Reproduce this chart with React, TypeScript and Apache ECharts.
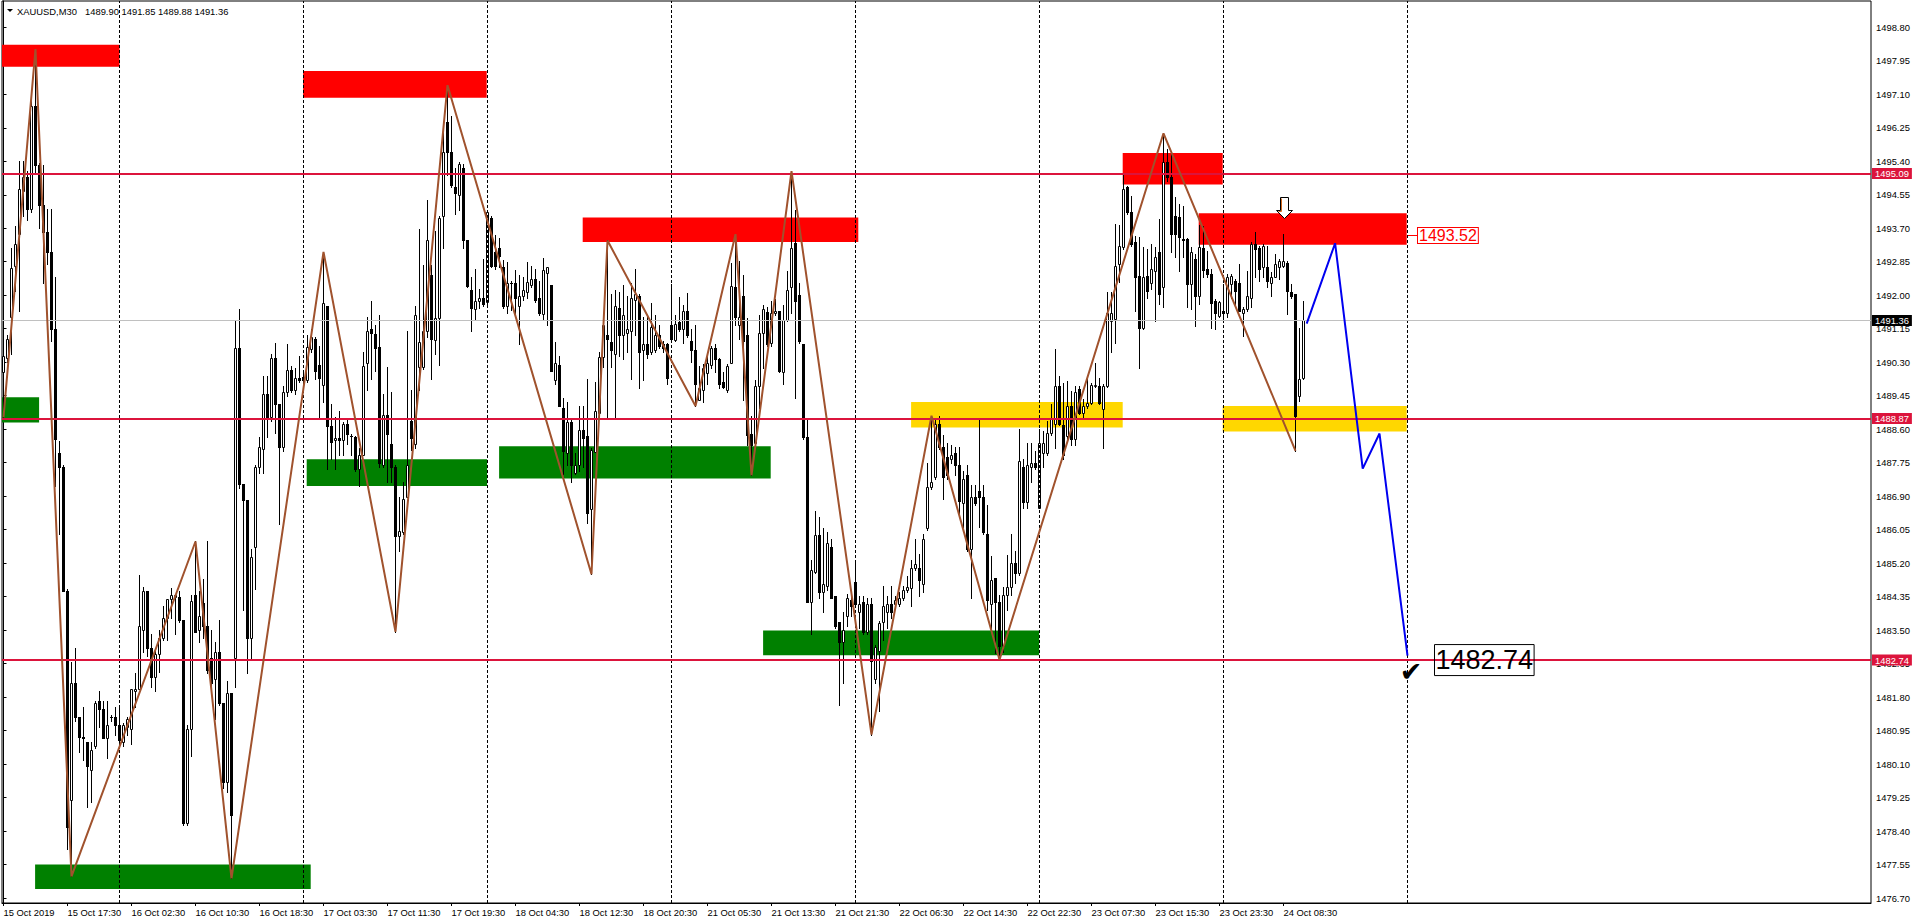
import React, { useEffect, useRef } from 'react';
import * as echarts from 'echarts';

// ---- Candles: [open, high, low, close], one array per trading day (M30) ----
const oct15 = [
  [1490.05, 1490.90, 1488.90, 1490.45], [1490.40, 1491.00, 1490.30, 1490.90], [1491.45, 1493.20, 1490.50, 1492.70],
  [1492.75, 1493.75, 1492.10, 1493.30], [1493.55, 1495.40, 1491.60, 1494.70], [1494.65, 1495.40, 1494.00, 1495.00],
  [1495.00, 1495.15, 1493.90, 1494.20], [1494.20, 1497.10, 1494.10, 1496.80], [1496.80, 1498.25, 1495.10, 1495.30],
  [1495.30, 1495.35, 1493.70, 1494.30], [1494.30, 1495.30, 1492.30, 1493.60], [1493.60, 1494.20, 1492.80, 1493.10],
  [1493.10, 1494.20, 1490.85, 1491.15], [1491.15, 1492.45, 1487.15, 1488.35], [1488.00, 1488.30, 1485.95, 1487.65],
  [1487.65, 1487.70, 1484.50, 1484.50], [1484.50, 1484.55, 1477.95, 1478.50], [1479.20, 1482.70, 1477.25, 1482.15],
  [1482.15, 1483.05, 1481.20, 1481.30], [1481.30, 1481.30, 1480.40, 1480.80], [1480.80, 1481.55, 1480.20, 1480.75],
  [1480.65, 1480.65, 1479.00, 1480.05], [1479.95, 1480.65, 1479.15, 1480.45], [1480.55, 1481.70, 1480.50, 1481.65],
  [1481.70, 1481.95, 1481.05, 1481.50], [1481.50, 1481.70, 1480.75, 1480.75], [1480.75, 1481.70, 1480.25, 1481.10],
  [1481.30, 1481.35, 1481.20, 1481.30], [1481.30, 1481.55, 1480.85, 1481.10],
];
const oct16 = [
  [1481.10, 1481.55, 1480.50, 1480.70], [1480.65, 1481.15, 1480.55, 1481.10], [1481.05, 1481.30, 1480.85, 1481.25],
  [1481.00, 1482.00, 1480.60, 1482.00], [1481.95, 1482.40, 1481.55, 1482.00], [1482.00, 1484.90, 1482.00, 1483.60],
  [1483.50, 1484.60, 1482.95, 1484.50], [1484.50, 1484.50, 1482.85, 1483.05], [1483.05, 1483.40, 1482.05, 1482.30],
  [1482.30, 1483.00, 1481.95, 1482.90], [1482.90, 1483.50, 1482.45, 1483.30], [1483.30, 1484.10, 1483.25, 1483.80],
  [1483.80, 1484.30, 1483.25, 1484.30], [1484.30, 1484.57, 1483.80, 1484.40], [1484.35, 1484.40, 1483.40, 1484.40],
  [1484.35, 1484.50, 1483.70, 1483.75], [1483.75, 1483.75, 1478.55, 1478.60], [1478.60, 1481.10, 1478.55, 1481.00],
  [1481.00, 1484.40, 1480.30, 1484.25], [1484.40, 1485.75, 1483.45, 1483.45], [1483.50, 1484.50, 1483.20, 1483.85],
  [1484.20, 1484.80, 1483.30, 1483.60], [1483.60, 1485.75, 1482.40, 1482.50], [1482.80, 1483.50, 1482.10, 1482.15],
  [1482.25, 1483.20, 1481.25, 1482.95], [1482.95, 1483.75, 1481.60, 1481.65], [1481.65, 1481.65, 1479.50, 1479.65],
  [1479.65, 1482.20, 1479.40, 1481.90], [1481.90, 1481.90, 1477.20, 1478.80], [1482.80, 1491.35, 1482.05, 1490.65],
  [1490.65, 1491.65, 1487.10, 1487.20], [1487.20, 1487.20, 1484.00, 1486.80], [1486.80, 1486.80, 1482.40, 1483.30],
  [1483.30, 1485.55, 1482.75, 1485.35], [1485.60, 1487.70, 1484.55, 1487.65], [1487.65, 1488.40, 1487.50, 1488.15],
  [1488.10, 1489.95, 1487.50, 1489.50], [1489.50, 1489.95, 1488.40, 1488.90], [1488.90, 1490.50, 1488.80, 1490.40],
  [1490.40, 1490.80, 1488.50, 1489.25], [1489.25, 1489.25, 1486.20, 1488.15], [1488.15, 1489.70, 1488.05, 1489.55],
  [1489.55, 1490.75, 1489.45, 1490.10], [1490.10, 1490.20, 1489.55, 1489.60], [1489.60, 1490.15, 1489.50, 1489.90],
  [1489.90, 1490.45, 1489.80, 1489.85],
];
const oct17 = [
  [1489.93, 1490.05, 1489.75, 1489.84], [1489.86, 1491.00, 1489.79, 1490.68], [1490.64, 1491.15, 1490.55, 1490.95],
  [1490.90, 1490.95, 1489.88, 1490.08], [1490.22, 1490.71, 1488.86, 1489.90], [1489.71, 1493.10, 1489.30, 1491.81],
  [1491.73, 1491.73, 1487.60, 1488.67], [1488.67, 1489.25, 1487.84, 1488.28], [1488.33, 1488.91, 1487.60, 1488.38],
  [1488.38, 1489.06, 1487.94, 1488.33], [1488.33, 1488.77, 1487.94, 1488.72], [1488.72, 1488.86, 1488.23, 1488.47],
  [1488.43, 1488.47, 1487.94, 1488.43], [1488.40, 1488.43, 1487.55, 1487.60], [1487.60, 1488.13, 1487.16, 1487.94],
  [1487.94, 1490.57, 1487.94, 1490.20], [1490.27, 1491.44, 1489.59, 1491.08], [1491.15, 1491.85, 1489.88, 1491.03],
  [1491.02, 1491.25, 1490.08, 1490.66], [1490.68, 1491.49, 1487.65, 1487.74], [1487.70, 1489.50, 1487.65, 1488.96],
  [1488.96, 1490.18, 1487.26, 1488.47], [1488.23, 1489.54, 1487.26, 1487.65], [1487.65, 1487.70, 1483.46, 1485.89],
  [1485.89, 1486.87, 1485.51, 1486.01], [1486.00, 1487.26, 1485.95, 1486.82], [1486.87, 1491.10, 1486.87, 1487.69],
  [1488.81, 1489.59, 1488.08, 1488.38], [1488.23, 1491.73, 1488.13, 1491.49], [1490.18, 1493.68, 1489.59, 1490.81],
  [1490.18, 1492.76, 1490.13, 1491.10], [1491.10, 1494.41, 1490.95, 1493.39], [1492.51, 1492.76, 1489.88, 1490.90],
  [1490.86, 1493.63, 1490.52, 1491.42], [1491.42, 1494.02, 1490.22, 1493.97], [1494.02, 1496.40, 1493.19, 1495.63],
  [1496.40, 1497.33, 1495.04, 1495.63], [1495.63, 1496.55, 1494.75, 1494.80], [1494.75, 1495.24, 1494.07, 1494.60],
  [1494.55, 1495.38, 1494.17, 1495.33], [1495.24, 1495.33, 1493.19, 1493.39], [1493.39, 1493.39, 1492.22, 1492.24],
  [1492.14, 1492.46, 1491.10, 1491.68], [1491.66, 1492.66, 1491.39, 1491.85], [1491.85, 1492.17, 1491.68, 1491.93],
  [1491.93, 1492.92, 1491.73, 1491.78],
];
const oct18 = [
  [1491.83, 1494.12, 1491.78, 1494.12], [1493.97, 1494.02, 1492.71, 1492.75], [1493.10, 1493.53, 1492.66, 1492.75],
  [1493.19, 1493.44, 1492.71, 1493.00], [1492.71, 1492.90, 1491.68, 1491.73], [1491.73, 1492.85, 1491.54, 1492.32],
  [1492.32, 1492.37, 1491.63, 1492.32], [1492.32, 1492.63, 1491.54, 1491.93], [1491.73, 1492.51, 1490.76, 1491.98],
  [1491.98, 1492.46, 1491.88, 1492.12], [1492.07, 1492.85, 1491.93, 1492.34], [1492.27, 1492.75, 1492.22, 1492.40],
  [1492.40, 1492.66, 1491.83, 1491.88], [1491.93, 1492.37, 1491.49, 1491.54], [1491.52, 1492.95, 1491.39, 1492.63],
  [1492.56, 1492.71, 1491.25, 1492.71], [1492.27, 1492.27, 1490.08, 1490.08], [1489.84, 1490.81, 1489.74, 1490.27],
  [1490.22, 1490.47, 1489.20, 1489.20], [1489.13, 1489.40, 1487.45, 1488.04], [1487.99, 1489.30, 1487.69, 1488.77],
  [1488.77, 1488.86, 1487.26, 1487.69], [1487.50, 1487.99, 1487.45, 1487.69], [1487.69, 1489.20, 1487.55, 1488.57],
  [1488.57, 1489.20, 1487.65, 1488.38], [1488.43, 1489.88, 1486.23, 1486.48], [1486.58, 1488.13, 1484.92, 1488.08],
  [1488.03, 1489.79, 1488.03, 1489.06], [1489.01, 1490.56, 1489.01, 1490.42], [1490.42, 1491.34, 1490.18, 1491.25],
  [1491.00, 1493.39, 1488.86, 1490.90], [1490.81, 1492.02, 1490.18, 1490.61], [1490.52, 1492.12, 1488.86, 1491.73],
  [1491.68, 1492.07, 1490.47, 1491.00], [1491.00, 1492.27, 1490.37, 1491.49], [1491.05, 1491.98, 1490.56, 1491.15],
  [1491.10, 1492.32, 1489.88, 1491.93], [1491.88, 1492.66, 1491.00, 1492.02], [1491.98, 1492.02, 1489.64, 1490.56],
  [1490.60, 1491.46, 1489.85, 1490.75], [1490.75, 1491.51, 1490.40, 1490.50], [1490.55, 1491.81, 1490.50, 1491.20],
  [1490.60, 1491.51, 1490.55, 1491.00], [1491.00, 1491.25, 1490.65, 1490.70], [1490.75, 1490.85, 1490.55, 1490.65],
  [1490.75, 1490.80, 1489.75, 1489.90],
];
const oct21 = [
  [1491.25, 1492.28, 1490.85, 1490.90], [1490.87, 1491.51, 1490.85, 1491.27], [1491.33, 1491.96, 1491.10, 1491.15],
  [1491.15, 1491.76, 1490.80, 1491.61], [1491.61, 1492.06, 1490.95, 1491.00], [1490.85, 1491.15, 1490.30, 1490.60],
  [1490.60, 1491.25, 1489.19, 1489.75], [1489.35, 1490.20, 1489.35, 1489.65], [1489.60, 1490.25, 1489.30, 1490.15],
  [1490.03, 1490.55, 1489.75, 1490.27], [1490.23, 1490.70, 1490.15, 1490.67], [1490.67, 1490.75, 1490.05, 1490.37],
  [1490.37, 1490.40, 1489.65, 1489.75], [1489.80, 1490.05, 1489.65, 1489.67], [1489.60, 1490.25, 1489.55, 1490.20],
  [1490.27, 1492.81, 1490.27, 1492.24], [1492.21, 1493.55, 1491.25, 1491.46], [1491.25, 1492.86, 1490.90, 1491.46],
  [1491.98, 1492.51, 1489.34, 1490.85], [1491.00, 1491.41, 1488.19, 1488.44], [1488.49, 1488.94, 1487.43, 1488.19],
  [1488.24, 1489.85, 1488.14, 1489.70], [1489.70, 1491.51, 1489.14, 1491.03], [1491.05, 1491.76, 1490.15, 1491.66],
  [1491.58, 1491.71, 1490.70, 1490.75], [1490.80, 1491.86, 1490.70, 1491.56], [1491.54, 1491.91, 1491.50, 1491.61],
  [1491.61, 1491.61, 1490.05, 1490.07], [1490.05, 1491.76, 1489.75, 1491.38], [1491.38, 1492.61, 1491.35, 1492.13],
  [1492.21, 1495.15, 1491.56, 1493.21], [1493.32, 1494.17, 1489.40, 1491.86], [1492.01, 1492.31, 1490.80, 1490.83],
  [1490.77, 1490.77, 1488.34, 1488.39], [1488.39, 1488.84, 1484.22, 1484.22], [1484.22, 1485.27, 1483.41, 1485.02],
  [1484.97, 1486.53, 1484.95, 1485.91], [1485.91, 1486.38, 1484.32, 1484.47], [1484.47, 1486.08, 1483.97, 1484.67],
  [1484.62, 1485.98, 1484.52, 1485.72], [1485.62, 1485.82, 1484.32, 1484.32], [1484.37, 1484.37, 1483.56, 1483.61],
  [1483.71, 1483.71, 1481.60, 1483.21], [1483.21, 1483.97, 1482.16, 1483.51], [1483.86, 1484.42, 1483.61, 1484.32],
  [1484.27, 1484.47, 1483.86, 1484.12],
];
const oct22 = [
  [1484.72, 1485.22, 1484.17, 1484.17], [1483.97, 1484.37, 1483.56, 1484.17], [1484.22, 1484.37, 1483.41, 1483.46],
  [1483.46, 1484.32, 1483.41, 1484.17], [1484.17, 1484.32, 1480.85, 1482.71], [1482.26, 1483.11, 1482.16, 1483.06],
  [1482.96, 1483.72, 1481.45, 1483.67], [1483.71, 1484.62, 1483.26, 1484.12], [1483.97, 1484.37, 1483.56, 1484.17],
  [1484.17, 1484.62, 1483.81, 1483.97], [1484.17, 1484.37, 1484.12, 1484.27], [1484.17, 1484.47, 1484.12, 1484.32],
  [1484.32, 1484.62, 1484.27, 1484.52], [1484.52, 1484.87, 1484.47, 1484.59], [1484.57, 1485.27, 1484.12, 1485.07],
  [1485.07, 1485.82, 1485.02, 1485.17], [1485.07, 1485.42, 1484.37, 1484.77], [1484.67, 1485.93, 1484.47, 1485.82],
  [1486.08, 1487.74, 1486.03, 1487.13], [1487.13, 1488.94, 1487.08, 1487.25], [1487.38, 1488.84, 1487.33, 1488.74],
  [1488.74, 1488.94, 1488.09, 1488.14], [1488.14, 1488.44, 1486.83, 1487.38], [1487.89, 1488.24, 1487.33, 1487.43],
  [1487.84, 1488.19, 1487.74, 1487.94], [1487.99, 1488.14, 1487.43, 1487.69], [1487.69, 1488.14, 1486.38, 1486.78],
  [1486.73, 1487.53, 1486.13, 1487.33], [1487.43, 1487.68, 1485.52, 1485.57], [1485.57, 1487.18, 1484.32, 1486.88],
  [1486.88, 1487.18, 1486.68, 1486.73], [1487.03, 1488.84, 1486.13, 1486.88], [1486.88, 1487.18, 1485.93, 1485.98],
  [1485.93, 1486.68, 1484.02, 1484.27], [1484.17, 1485.37, 1483.46, 1484.77], [1484.82, 1484.82, 1482.91, 1484.22],
  [1484.22, 1484.40, 1482.75, 1483.10], [1483.10, 1484.60, 1482.95, 1484.40], [1484.40, 1485.40, 1484.00, 1484.60],
  [1484.60, 1485.95, 1484.40, 1485.20], [1485.20, 1485.50, 1484.70, 1484.95], [1484.95, 1488.60, 1484.90, 1487.80],
  [1487.65, 1487.85, 1486.60, 1486.75], [1486.75, 1488.25, 1486.60, 1487.70], [1487.65, 1488.25, 1487.25, 1487.75],
  [1487.75, 1488.05, 1487.60, 1487.65],
];
const oct23 = [
  [1486.60, 1488.60, 1486.60, 1488.25], [1488.00, 1488.55, 1487.65, 1488.25], [1488.00, 1488.80, 1487.95, 1488.50],
  [1488.50, 1489.25, 1488.45, 1488.85], [1488.73, 1490.63, 1488.13, 1489.70], [1489.70, 1489.95, 1488.70, 1488.73],
  [1488.70, 1489.78, 1487.84, 1487.95], [1488.42, 1489.83, 1488.30, 1489.19], [1489.19, 1489.57, 1488.21, 1488.34],
  [1488.34, 1489.70, 1488.21, 1489.55], [1489.62, 1489.70, 1488.98, 1489.02], [1489.02, 1489.36, 1488.89, 1489.19],
  [1489.19, 1489.91, 1489.15, 1489.27], [1489.27, 1489.78, 1489.23, 1489.72], [1489.70, 1490.29, 1489.66, 1489.72],
  [1489.70, 1489.91, 1489.23, 1489.27], [1489.11, 1489.74, 1488.13, 1489.70], [1489.70, 1492.07, 1489.66, 1491.56],
  [1491.35, 1492.07, 1490.55, 1491.56], [1491.40, 1493.80, 1490.80, 1492.75], [1492.79, 1493.77, 1492.33, 1493.26],
  [1493.22, 1495.04, 1493.17, 1494.70], [1494.74, 1494.78, 1494.05, 1494.10], [1494.10, 1494.53, 1493.25, 1493.30],
  [1493.34, 1493.51, 1491.60, 1492.45], [1492.49, 1493.47, 1490.16, 1491.18], [1491.18, 1493.22, 1491.14, 1492.45],
  [1492.49, 1493.17, 1491.94, 1492.11], [1492.32, 1493.30, 1492.16, 1492.66], [1492.62, 1493.22, 1491.35, 1492.96],
  [1493.09, 1493.94, 1491.77, 1492.03], [1492.20, 1496.11, 1491.69, 1495.38], [1495.38, 1495.72, 1494.91, 1494.99],
  [1494.99, 1495.59, 1493.09, 1493.55], [1494.02, 1494.49, 1492.96, 1493.55], [1493.99, 1494.32, 1492.62, 1493.47],
  [1493.43, 1494.27, 1492.96, 1493.40], [1493.43, 1493.45, 1491.69, 1492.28], [1492.28, 1493.22, 1491.65, 1493.09],
  [1492.92, 1493.04, 1491.22, 1491.99], [1491.99, 1493.77, 1491.77, 1493.22], [1493.20, 1493.75, 1492.45, 1492.65],
  [1492.66, 1493.13, 1492.45, 1492.54], [1492.54, 1492.66, 1491.18, 1491.79], [1491.86, 1491.90, 1491.14, 1491.56],
  [1491.48, 1491.86, 1491.44, 1491.82],
];
const oct24 = [
  [1491.60, 1492.28, 1491.35, 1491.56], [1491.56, 1492.53, 1491.44, 1492.45], [1492.28, 1492.53, 1491.94, 1492.49],
  [1492.37, 1492.41, 1491.77, 1492.11], [1492.32, 1492.79, 1491.60, 1491.60], [1491.56, 1491.70, 1490.97, 1491.65],
  [1491.65, 1492.62, 1491.60, 1491.99], [1491.94, 1493.34, 1491.69, 1493.30], [1493.30, 1493.60, 1492.45, 1493.17],
  [1493.21, 1493.26, 1492.37, 1492.66], [1492.71, 1493.30, 1492.45, 1493.26], [1492.71, 1493.26, 1492.20, 1492.37],
  [1492.32, 1492.58, 1491.99, 1492.45], [1492.45, 1493.04, 1492.45, 1492.79], [1492.71, 1492.92, 1492.41, 1492.88],
  [1492.75, 1493.55, 1492.71, 1492.88], [1492.83, 1492.88, 1491.52, 1492.11], [1492.07, 1492.28, 1491.94, 1491.99],
  [1492.03, 1492.03, 1488.05, 1488.93], [1489.45, 1491.18, 1489.32, 1489.87], [1489.90, 1491.85, 1489.88, 1491.36],
];

// ---- Axis labels ----
const timeLabelBars = [0, 16, 32, 48, 64, 80, 96, 112, 128, 144, 160, 176, 192, 208, 224, 240, 256, 272, 288, 304, 320];
const timeLabels = [
  '15 Oct 2019', '15 Oct 17:30', '16 Oct 02:30', '16 Oct 10:30', '16 Oct 18:30', '17 Oct 03:30', '17 Oct 11:30',
  '17 Oct 19:30', '18 Oct 04:30', '18 Oct 12:30', '18 Oct 20:30', '21 Oct 05:30', '21 Oct 13:30', '21 Oct 21:30',
  '22 Oct 06:30', '22 Oct 14:30', '22 Oct 22:30', '23 Oct 07:30', '23 Oct 15:30', '23 Oct 23:30', '24 Oct 08:30',
];
const priceTicks = [
  1476.70, 1477.55, 1478.40, 1479.25, 1480.10, 1480.95, 1481.80, 1482.65, 1483.50, 1484.35, 1485.20, 1486.05, 1486.90,
  1487.75, 1488.60, 1489.45, 1490.30, 1491.15, 1492.00, 1492.85, 1493.70, 1494.55, 1495.40, 1496.25, 1497.10, 1497.95,
  1498.80,
];
const daySeparators = [29, 75, 121, 167, 213, 259, 305, 351];

// ---- Objects drawn on the chart ----
const levelPrices = [1495.09, 1488.87, 1482.74];
const bidPrice = 1491.36;
const header = ['XAUUSD,M30', '1489.90 1491.85 1489.88 1491.36'];

// zones: [startBar, endBar, lowPrice, highPrice, kind]
const zones: [number, number, number, number, string][] = [
  [-0.5, 29, 1497.80, 1498.36, 'supply'],
  [-0.5, 8.9, 1488.77, 1489.41, 'demand'],
  [7.9, 76.8, 1476.93, 1477.55, 'demand'],
  [74.9, 120.8, 1497.01, 1497.69, 'supply'],
  [75.8, 120.9, 1487.16, 1487.84, 'demand'],
  [123.9, 191.8, 1487.35, 1488.17, 'demand'],
  [144.8, 213.7, 1493.35, 1493.97, 'supply'],
  [189.9, 258.9, 1482.86, 1483.49, 'demand'],
  [226.9, 279.8, 1488.64, 1489.29, 'pivot'],
  [279.8, 304.8, 1494.81, 1495.61, 'supply'],
  [298.8, 350.8, 1493.28, 1494.08, 'supply'],
  [304.8, 350.8, 1488.54, 1489.19, 'pivot'],
];

const zigzagBars = [0, 8, 17, 48, 57, 80, 98, 111, 147, 151, 173, 183, 187, 197, 217, 232, 249, 290, 323];
const zigzagPrices = [
  1488.90, 1498.25, 1477.25, 1485.75, 1477.20, 1493.10, 1483.46, 1497.33, 1484.92, 1493.39, 1489.19, 1493.55,
  1487.43, 1495.15, 1480.85, 1488.94, 1482.75, 1496.11, 1488.05,
];
const forecastBars = [325.8, 332.9, 339.8, 344, 351];
const forecastPrices = [1491.28, 1493.32, 1487.60, 1488.49, 1482.85];

const arrowAnchor = [320, 1493.95];
const targetTag = { bar: 350.8, price: 1493.52 };
const goalLabel = { bar: 357.75, price: 1482.74 };
const checkAnchor = [351.9, 1482.44];

const FONT = "'Liberation Sans', Arial, sans-serif";
const SMALL = 9.4;

function buildOption(): any {
  const candles = [...oct15, ...oct16, ...oct17, ...oct18, ...oct21, ...oct22, ...oct23, ...oct24];
  const candleData = candles.map((c, i) => [i, c[0], c[1], c[2], c[3]]);
  const zoneColors: Record<string, string> = { supply: '#FF0000', demand: '#008000', pivot: '#FFD700' };

  const levelLabel = (txt: string, bg: string) => ({
    show: true,
    position: 'end',
    distance: 1,
    formatter: txt,
    color: '#fff',
    backgroundColor: bg,
    padding: [1, 3, 1, 3],
    fontSize: SMALL,
    fontFamily: FONT,
    lineHeight: 9,
  });

  return {
    animation: false,
    backgroundColor: '#fff',
    grid: { left: 2, top: 1, width: 1869, height: 902, show: true, borderColor: '#000', borderWidth: 1, containLabel: false },
    xAxis: {
      type: 'value',
      min: -0.375,
      max: 466.875,
      position: 'bottom',
      splitLine: { show: false },
      axisLine: { show: true, onZero: false, lineStyle: { color: '#000', width: 1 } },
      axisTick: { show: true, length: 3, customValues: timeLabelBars, lineStyle: { color: '#000' } },
      axisLabel: {
        show: true,
        customValues: timeLabelBars,
        formatter: (v: number) => timeLabels[timeLabelBars.indexOf(Math.round(v))] ?? '',
        align: 'left',
        margin: 5,
        color: '#000',
        fontSize: SMALL,
        fontFamily: FONT,
      },
    },
    yAxis: {
      type: 'value',
      position: 'right',
      min: 1476.5745,
      max: 1499.4675,
      splitLine: { show: false },
      axisLine: { show: true, lineStyle: { color: '#000', width: 1 } },
      axisTick: { show: true, length: 3, customValues: priceTicks, lineStyle: { color: '#000' } },
      axisLabel: {
        show: true,
        customValues: priceTicks,
        formatter: (v: number) => v.toFixed(2),
        margin: 5,
        color: '#000',
        fontSize: SMALL,
        fontFamily: FONT,
      },
    },
    graphic: [
      { type: 'polygon', shape: { points: [[7, 9], [13, 9], [10, 12]] }, style: { fill: '#000' } },
      { type: 'text', x: 17, y: 11, style: { text: header[0], fill: '#000', fontSize: SMALL, fontFamily: FONT, verticalAlign: 'middle' } },
      { type: 'text', x: 85, y: 11, style: { text: header[1], fill: '#000', fontSize: SMALL, fontFamily: FONT, verticalAlign: 'middle' } },
    ],
    series: [
      {
        name: 'zones',
        type: 'custom',
        z: 1,
        silent: true,
        clip: true,
        encode: { x: [0, 1], y: [2, 3] },
        data: zones.map((zn) => [zn[0], zn[1], zn[2], zn[3]]),
        renderItem: (params: any, api: any) => {
          const zn = zones[params.dataIndex];
          const cs = params.coordSys;
          const p1 = api.coord([zn[0], zn[3]]);
          const p2 = api.coord([zn[1], zn[2]]);
          const x1 = Math.max(p1[0], cs.x);
          const x2 = Math.min(p2[0], cs.x + cs.width);
          return {
            type: 'rect',
            shape: { x: x1, y: p1[1], width: x2 - x1, height: p2[1] - p1[1] },
            style: { fill: zoneColors[zn[4]] },
          };
        },
      },
      {
        name: 'separators',
        type: 'line',
        z: 2,
        data: [],
        silent: true,
        markLine: {
          silent: true,
          symbol: ['none', 'none'],
          label: { show: false },
          lineStyle: { color: '#000', width: 1, type: [3, 2] },
          data: daySeparators.map((b) => ({ xAxis: b })),
        },
      },
      {
        name: 'candles',
        type: 'custom',
        z: 3,
        silent: true,
        clip: true,
        encode: { x: 0, y: [1, 2, 3, 4] },
        data: candleData,
        renderItem: (params: any, api: any) => {
          const i = api.value(0);
          const o = api.value(1);
          const h = api.value(2);
          const l = api.value(3);
          const c = api.value(4);
          const pH = api.coord([i, h]);
          const pL = api.coord([i, l]);
          const pO = api.coord([i, o]);
          const pC = api.coord([i, c]);
          const x = Math.floor(pH[0]) + 0.5;
          const children: any[] = [
            { type: 'line', shape: { x1: x, y1: Math.round(pH[1]), x2: x, y2: Math.round(pL[1]) + 1 }, style: { stroke: '#000', lineWidth: 1 } },
          ];
          const yt = Math.round(Math.min(pO[1], pC[1]));
          const yb = Math.round(Math.max(pO[1], pC[1]));
          if (c > o) {
            children.push({
              type: 'rect',
              shape: { x: x - 1, y: yt + 0.5, width: 2, height: Math.max(yb - yt, 1) },
              style: { fill: '#fff', stroke: '#000', lineWidth: 1 },
            });
          } else if (c < o) {
            children.push({
              type: 'rect',
              shape: { x: x - 1.5, y: yt, width: 3, height: Math.max(yb - yt + 1, 1) },
              style: { fill: '#000' },
            });
          } else {
            children.push({ type: 'line', shape: { x1: x - 1.5, y1: yt + 0.5, x2: x + 1.5, y2: yt + 0.5 }, style: { stroke: '#000', lineWidth: 1 } });
          }
          return { type: 'group', children };
        },
      },
      {
        name: 'levels',
        type: 'line',
        z: 4,
        data: [],
        silent: true,
        markLine: {
          silent: true,
          symbol: ['none', 'none'],
          data: [
            { yAxis: bidPrice, lineStyle: { color: '#C0C0C0', width: 1, type: 'solid' }, label: levelLabel(bidPrice.toFixed(2), '#000') },
            ...levelPrices.map((p) => ({
              yAxis: p,
              lineStyle: { color: '#DC143C', width: 2, type: 'solid' },
              label: levelLabel(p.toFixed(2), '#DC143C'),
            })),
          ],
        },
      },
      {
        name: 'zigzag',
        type: 'line',
        z: 5,
        silent: true,
        symbol: 'none',
        showSymbol: false,
        clip: true,
        lineStyle: { color: '#A0522D', width: 2 },
        data: zigzagBars.map((b, k) => [b, zigzagPrices[k]]),
      },
      {
        name: 'forecast',
        type: 'line',
        z: 5,
        silent: true,
        symbol: 'none',
        showSymbol: false,
        lineStyle: { color: '#0000F0', width: 2 },
        data: forecastBars.map((b, k) => [b, forecastPrices[k]]),
      },
      {
        name: 'annotations',
        type: 'custom',
        z: 6,
        silent: true,
        encode: { x: 0, y: 1 },
        data: [arrowAnchor, [targetTag.bar, targetTag.price], [goalLabel.bar, goalLabel.price], checkAnchor],
        renderItem: (params: any, api: any) => {
          const pt = api.coord([api.value(0), api.value(1)]);
          const idx = params.dataIndex;
          if (idx === 0) {
            const x = Math.round(pt[0]) + 0.5;
            const y = Math.round(pt[1]) + 0.5;
            const pts = [[0, 0], [8, -8], [4, -8], [4, -21], [-4, -21], [-4, -8], [-8, -8]].map((q) => [x + q[0], y + q[1]]);
            return {
              type: 'group',
              children: [
                { type: 'polygon', shape: { points: pts }, style: { fill: '#fff', stroke: '#000', lineWidth: 1 } },
                { type: 'polyline', shape: { points: [[x - 3, y - 20], [x - 3, y - 7], [x - 6, y - 7]] }, style: { stroke: '#D2691E', lineWidth: 1, fill: null } },
              ],
            };
          }
          if (idx === 1) {
            const x = Math.round(pt[0]);
            const y = Math.round(pt[1]) + 0.5;
            return {
              type: 'group',
              children: [
                { type: 'line', shape: { x1: x + 1, y1: y, x2: x + 11, y2: y }, style: { stroke: '#FF0000', lineWidth: 1 } },
                {
                  type: 'text',
                  x: x + 11,
                  y: y,
                  style: {
                    text: targetTag.price.toFixed(2),
                    fill: '#FF0000',
                    fontSize: 16,
                    fontFamily: FONT,
                    align: 'left',
                    verticalAlign: 'middle',
                    backgroundColor: '#fff',
                    borderColor: '#FF0000',
                    borderWidth: 1,
                    padding: [0, 1, 0, 1],
                    lineHeight: 15,
                  },
                },
              ],
            };
          }
          if (idx === 2) {
            return {
              type: 'text',
              x: pt[0],
              y: pt[1],
              style: {
                text: goalLabel.price.toFixed(2),
                fill: '#000',
                fontSize: 27,
                fontFamily: FONT,
                align: 'left',
                verticalAlign: 'middle',
                borderColor: '#000',
                borderWidth: 1,
                padding: [1, 1, 0, 1],
                lineHeight: 30,
              },
            };
          }
          return {
            type: 'text',
            x: pt[0],
            y: pt[1],
            style: {
              text: '\u2714',
              fill: '#000',
              fontSize: 27,
              fontFamily: "'DejaVu Sans', sans-serif",
              align: 'center',
              verticalAlign: 'middle',
            },
          };
        },
      },
    ],
  };
}

export default function App() {
  const ref = useRef<HTMLDivElement>(null);
  useEffect(() => {
    if (!ref.current) return;
    const chart = echarts.init(ref.current, null, { renderer: 'svg' });
    chart.setOption(buildOption());
    return () => chart.dispose();
  }, []);
  return (
    <div
      ref={ref}
      style={{ position: 'fixed', left: 0, top: 0, width: 1916, height: 923, background: '#fff' }}
    />
  );
}
